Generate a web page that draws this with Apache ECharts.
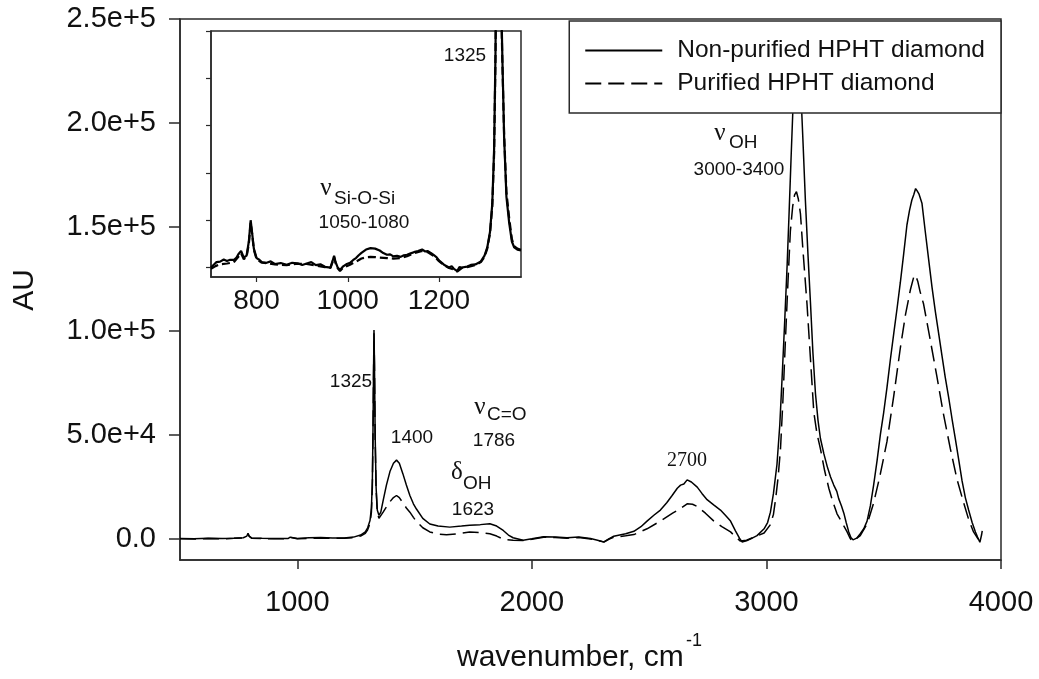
<!DOCTYPE html>
<html>
<head>
<meta charset="utf-8">
<script src="https://cdn.jsdelivr.net/npm/echarts@6/dist/echarts.min.js"></script>
<style>
  html, body { margin: 0; padding: 0; background: #fff; }
  #chart { width: 1039px; height: 679px; }
</style>
</head>
<body>
<div id="chart"></div>
<script>
// Series names
const seriesNames = ['Non-purified HPHT diamond', 'Purified HPHT diamond'];

// Axis ticks
const xTicks = [1000, 2000, 3000, 4000];
const yTicks = [0, 50000, 100000, 150000, 200000, 250000];
const insetXTicks = [800, 1000, 1200];
const insetYTicks = [0, 2000, 4000, 6000, 8000, 10000];

// Full spectrum, non-purified diamond (wavenumber, cm-1 / AU)
const wnNonPurified = [500, 560, 620, 680, 730, 770, 785, 790, 795, 805, 850, 900, 960, 970, 978, 1000, 1050, 1100, 1150, 1200,
  1240, 1270, 1290, 1300, 1310, 1316, 1320, 1323, 1325, 1327, 1329, 1332, 1336, 1341, 1348, 1356, 1366, 1380, 1395, 1410,
  1423, 1435, 1450, 1465, 1480, 1495, 1508, 1535, 1565, 1600, 1650, 1700, 1735, 1780, 1821, 1850, 1878, 1900, 1920, 1963,
  2000, 2050, 2100, 2150, 2200, 2250, 2280, 2307, 2330, 2349, 2400, 2435, 2465, 2491, 2520, 2548, 2575, 2598, 2620, 2634,
  2648, 2662, 2680, 2705, 2725, 2747, 2775, 2804, 2825, 2847, 2868, 2885, 2896, 2915, 2935, 2960, 2990, 3005, 3017, 3030,
  3045, 3057, 3067, 3078, 3088, 3097, 3105, 3113, 3122, 3130, 3138, 3148, 3157, 3166, 3177, 3188, 3198, 3209, 3220, 3230,
  3245, 3259, 3273, 3287, 3300, 3308, 3320, 3330, 3340, 3351, 3360, 3369, 3385, 3400, 3415, 3429, 3443, 3457, 3472, 3486,
  3500, 3514, 3528, 3543, 3557, 3571, 3585, 3599, 3610, 3620, 3628, 3636, 3642, 3650, 3663, 3677, 3692, 3706, 3720, 3734,
  3748, 3762, 3777, 3791, 3805, 3820, 3834, 3848, 3862, 3877, 3891, 3900, 3910, 3914, 3917, 3920];
const auNonPurified = [300, 200, 400, 300, 500, 700, 1500, 2800, 1500, 600, 400, 300, 300, 1000, 300, 300, 700, 800, 600, 600,
  1000, 2000, 3500, 5500, 9000, 15000, 28000, 55000, 80000, 100500, 85000, 50000, 25000, 14000, 11500, 13000, 18500, 26000, 32500, 36500,
  38000, 36500, 31500, 26000, 21000, 17000, 14500, 10000, 7300, 6300, 5800, 6300, 6700, 7000, 7400, 6300, 4200, 2000, 700, -500,
  200, 1200, 1000, 700, 1000, 300, -500, -1300, 300, 1400, 2600, 3800, 6000, 8700, 11500, 14000, 17500, 21000, 24500, 26000,
  26500, 28500, 27500, 25000, 22000, 19000, 16500, 14000, 11500, 8700, 4000, 500, -1300, -800, 300, 1700, 5000, 8000, 13000, 22000,
  36000, 55000, 78000, 105000, 131000, 158000, 183000, 207000, 226000, 234000, 228000, 212000, 188000, 163000, 137000, 113000, 90000, 70000, 57000, 48500,
  41000, 35000, 30000, 26000, 23000, 19500, 16000, 12500, 8000, 3500, 800, -300, 500, 2600, 5000, 8700, 16000, 26000, 38000, 50500,
  61000, 73000, 86000, 99000, 111000, 123500, 137000, 151000, 158000, 163000, 165500, 168500, 167500, 166000, 161500, 148000, 134000, 121000, 109500, 99000,
  88500, 78000, 68000, 58000, 48500, 38000, 28000, 20000, 14000, 8000, 3500, 1000, -1500, -2000, 2000, 4000];

// Full spectrum, purified diamond
const wnPurified = [500, 560, 620, 680, 730, 770, 785, 790, 795, 805, 850, 900, 960, 970, 978, 1000, 1050, 1100, 1150, 1200,
  1240, 1270, 1290, 1300, 1310, 1316, 1320, 1323, 1325, 1327, 1329, 1332, 1336, 1341, 1348, 1356, 1366, 1380, 1395, 1410,
  1423, 1435, 1450, 1465, 1480, 1495, 1508, 1535, 1565, 1600, 1636, 1680, 1735, 1780, 1821, 1850, 1878, 1920, 1963,
  2000, 2050, 2100, 2150, 2200, 2250, 2280, 2307, 2330, 2349, 2400, 2435, 2491, 2548, 2600, 2634, 2662, 2685, 2705, 2740,
  2776, 2810, 2847, 2870, 2889, 2915, 2946, 2990, 3017, 3030, 3040, 3050, 3060, 3070, 3081, 3092, 3102, 3112, 3120, 3128,
  3136, 3145, 3155, 3165, 3173, 3187, 3202, 3215, 3230, 3248, 3266, 3283, 3301, 3322, 3344, 3355, 3365, 3382, 3400, 3430,
  3457, 3485, 3514, 3543, 3571, 3593, 3614, 3628, 3635, 3645, 3655, 3670, 3698, 3727, 3755, 3784, 3812, 3841, 3862, 3883,
  3900, 3912, 3916];
const auPurified = [200, 100, 300, 200, 400, 600, 1300, 2500, 1300, 500, 300, 200, 200, 800, 200, 200, 400, 500, 400, 400,
  700, 1500, 2800, 4500, 7500, 13000, 25000, 52000, 78000, 99000, 84000, 48000, 24000, 13000, 10000, 10500, 13000, 15500, 18000, 20000,
  21000, 20000, 17500, 15000, 13000, 10500, 8500, 5500, 3500, 2500, 2100, 2600, 3400, 3200, 2600, 1500, 0, -500, -600,
  0, 900, 800, 500, 800, 100, -600, -1400, 100, 1000, 1600, 2200, 5000, 8700, 12500, 14800, 17000, 16800, 15700, 12500,
  8700, 6000, 3500, 1000, -900, -500, 900, 3000, 7000, 12000, 20000, 30000, 43500, 66000, 95700, 124000, 148000, 160000, 165500, 167000,
  163500, 156500, 140000, 125000, 113000, 88000, 61000, 51000, 43500, 33000, 24500, 18000, 12200, 8000, 3500, 800, -900, 200, 1700, 7500,
  17400, 31000, 47000, 69000, 92000, 108000, 120000, 126000, 127000, 124000, 119000, 113000, 96000, 78000, 60000, 43500, 29000, 17400, 9500, 3500,
  500, -900, -1500];

// Low-wavenumber detail (inset), non-purified diamond
const wnInsetNonPurified = [700, 706, 712, 720, 728, 735, 742, 750, 756, 760, 766, 772, 778, 783, 787, 790, 794, 800, 806, 812,
  822, 831, 840, 853, 866, 878, 890, 900, 910, 920, 930, 940, 950, 962, 967, 970, 973, 978, 983, 990,
  998, 1005, 1012, 1018, 1024, 1030, 1040, 1050, 1060, 1070, 1078, 1086, 1093, 1100, 1108, 1116, 1123, 1130, 1138, 1145,
  1154, 1163, 1170, 1175, 1182, 1189, 1195, 1200, 1211, 1222, 1228, 1233, 1240, 1245, 1250, 1262, 1270, 1280, 1292, 1300,
  1306, 1312, 1317, 1321, 1324, 1327, 1330, 1333, 1336, 1339, 1343, 1348, 1354, 1360, 1365, 1372, 1380];
const auInsetNonPurified = [0, 120, 230, 250, 340, 280, 330, 320, 420, 560, 700, 420, 500, 1100, 2000, 1500, 800, 400, 330, 220,
  200, 260, 150, 190, 120, 200, 180, 110, 170, 230, 100, 140, 30, 0, 300, 500, 250, 0, -100, 50,
  150, 200, 320, 400, 520, 620, 760, 820, 800, 720, 610, 540, 560, 470, 500, 450, 520, 540, 600, 650,
  700, 760, 680, 700, 620, 520, 430, 300, 120, 0, 60, -60, -150, 20, 0, 40, 110, 130, 260, 500,
  850, 1500, 2700, 5000, 9000, 16000, 22000, 18000, 12000, 9000, 5500, 3000, 1900, 1100, 850, 760, 720];

// Low-wavenumber detail (inset), purified diamond
const wnInsetPurified = [700, 710, 720, 735, 750, 760, 766, 772, 778, 783, 787, 790, 794, 800, 810, 822, 840, 866, 890, 910,
  930, 950, 962, 967, 970, 973, 978, 983, 990, 1005, 1018, 1030, 1040, 1050, 1060, 1070, 1086, 1100, 1116, 1130,
  1145, 1163, 1175, 1189, 1200, 1211, 1222, 1233, 1240, 1250, 1262, 1280, 1292, 1300, 1306, 1312, 1317, 1321, 1324, 1327,
  1330, 1333, 1336, 1339, 1343, 1348, 1354, 1360, 1365, 1372, 1380];
const auInsetPurified = [-50, 60, 140, 170, 220, 450, 600, 350, 450, 1000, 1900, 1450, 750, 350, 220, 180, 130, 100, 160, 150,
  80, 20, -20, 250, 450, 200, -30, -150, 0, 120, 250, 380, 430, 450, 440, 420, 400, 380, 400, 480,
  600, 700, 650, 480, 270, 100, -20, -80, -170, -20, 20, 110, 230, 450, 800, 1450, 2600, 4800, 8800, 15000,
  21000, 17000, 11500, 8800, 5600, 3200, 2100, 1200, 900, 800, 750];

const zip = (xs, ys) => xs.map((x, i) => [x, ys[i]]);

const INK = '#111';
const FRAME = '#2a2a2a';
const SANS = '"Liberation Sans", Arial, sans-serif';
const SERIF = '"Liberation Serif", "Times New Roman", serif';

const solidStyle = { color: '#000', width: 1.5, type: 'solid' };
const dashedStyle = { color: '#000', width: 1.5, type: [16, 7] };

const chart = echarts.init(document.getElementById('chart'), null, { renderer: 'canvas' });

// Text annotations: peak assignments, axis titles
function txt(text, x, y, size, family, align, extra) {
  return Object.assign({
    type: 'text', x: x, y: y, z: 20, silent: true,
    style: {
      text: text, fill: INK,
      font: size + 'px ' + family,
      textAlign: align || 'center', textVerticalAlign: 'middle'
    }
  }, extra || {});
}

const annotations = [
  // main plot
  txt('1325', 351, 382, 19, SANS),
  txt('1400', 412, 438, 19, SANS),
  txt('\u03bd', 480, 407, 25, SERIF),
  txt('C=O', 487, 415, 19, SANS, 'left'),
  txt('1786', 494, 441, 19, SANS),
  txt('\u03b4', 457, 472, 25, SERIF),
  txt('OH', 463, 484, 19, SANS, 'left'),
  txt('1623', 473, 510, 19, SANS),
  txt('2700', 687, 461, 20, SERIF),
  txt('\u03bd', 720, 133, 25, SERIF),
  txt('OH', 729, 143, 19, SANS, 'left'),
  txt('3000-3400', 739, 170, 19, SANS),
  // inset
  txt('1325', 465, 56, 19, SANS),
  txt('\u03bd', 326, 188, 25, SERIF),
  txt('Si-O-Si', 334, 199, 19, SANS, 'left'),
  txt('1050-1080', 364, 223, 19, SANS),
  // axis titles
  txt('wavenumber, cm', 457, 658, 30, SANS, 'left'),
  txt('-1', 686, 641, 18, SANS, 'left'),
  txt('AU', 25, 290, 30, SANS, 'center', { rotation: Math.PI / 2 })
];

const plainNumber = v => String(v);

const option = {
  animation: false,
  backgroundColor: '#fff',
  textStyle: { fontFamily: SANS, color: INK },
  grid: [
    { left: 180, top: 19, right: 38, bottom: 119, show: true, borderColor: FRAME, borderWidth: 1.5, backgroundColor: 'transparent' },
    { left: 211, top: 31, width: 310, height: 246, show: true, borderColor: FRAME, borderWidth: 1.5, backgroundColor: '#fff' }
  ],
  xAxis: [
    {
      type: 'value', gridIndex: 0, min: 500, max: 4000,
      axisLine: { show: true, onZero: false, lineStyle: { color: FRAME, width: 1.5 } },
      axisTick: { show: true, length: 9, customValues: xTicks, lineStyle: { color: FRAME, width: 1.5 } },
      axisLabel: { customValues: xTicks, fontSize: 29, color: INK, margin: 28, fontFamily: SANS, formatter: plainNumber },
      splitLine: { show: false }
    },
    {
      type: 'value', gridIndex: 1, min: 700, max: 1380,
      axisLine: { show: true, onZero: false, lineStyle: { color: FRAME, width: 1.5 } },
      axisTick: { show: true, length: 5, customValues: insetXTicks, lineStyle: { color: FRAME, width: 1.2 } },
      axisLabel: { customValues: insetXTicks, fontSize: 28, color: INK, margin: 10, fontFamily: SANS, formatter: plainNumber },
      splitLine: { show: false }
    }
  ],
  yAxis: [
    {
      type: 'value', gridIndex: 0, min: -10000, max: 250000,
      axisLine: { show: true, onZero: false, lineStyle: { color: FRAME, width: 1.5 } },
      axisTick: { show: true, length: 11, customValues: yTicks, lineStyle: { color: FRAME, width: 1.5 } },
      axisLabel: {
        customValues: yTicks, fontSize: 29, color: INK, margin: 24, fontFamily: SANS,
        padding: [5, 0, 0, 0],
        formatter: v => (v === 0 ? '0.0' : Number(v).toExponential(1))
      },
      splitLine: { show: false }
    },
    {
      type: 'value', gridIndex: 1, min: -400, max: 10000,
      axisLine: { show: true, onZero: false, lineStyle: { color: FRAME, width: 1.5 } },
      axisTick: { show: true, length: 5, customValues: insetYTicks, lineStyle: { color: FRAME, width: 1.2 } },
      axisLabel: { show: false },
      splitLine: { show: false }
    }
  ],
  legend: {
    data: seriesNames, orient: 'vertical', right: 38, top: 21,
    padding: [17, 16, 17, 15], itemGap: 8, itemWidth: 77, itemHeight: 14,
    backgroundColor: '#fff', borderColor: FRAME, borderWidth: 1.5, borderRadius: 0,
    selectedMode: false,
    itemStyle: { opacity: 0 },
    textStyle: { fontSize: 24.5, color: INK, fontFamily: SANS, lineHeight: 24, padding: [0, 0, 0, 10] }
  },
  series: [
    { name: seriesNames[0], type: 'line', xAxisIndex: 0, yAxisIndex: 0, data: zip(wnNonPurified, auNonPurified),
      symbol: 'none', showSymbol: false, lineStyle: solidStyle, itemStyle: { color: '#000' }, z: 3 },
    { name: seriesNames[1], type: 'line', xAxisIndex: 0, yAxisIndex: 0, data: zip(wnPurified, auPurified),
      symbol: 'none', showSymbol: false, lineStyle: dashedStyle, itemStyle: { color: '#000' }, z: 3 },
    { name: seriesNames[0], type: 'line', xAxisIndex: 1, yAxisIndex: 1, data: zip(wnInsetNonPurified, auInsetNonPurified),
      symbol: 'none', showSymbol: false, clip: true, lineStyle: { color: '#000', width: 2.2 }, itemStyle: { color: '#000' }, z: 6 },
    { name: seriesNames[1], type: 'line', xAxisIndex: 1, yAxisIndex: 1, data: zip(wnInsetPurified, auInsetPurified),
      symbol: 'none', showSymbol: false, clip: true, lineStyle: { color: '#000', width: 2.2, type: [8, 4] }, itemStyle: { color: '#000' }, z: 6 }
  ],
  graphic: { elements: annotations }
};

chart.setOption(option);
</script>
</body>
</html>
